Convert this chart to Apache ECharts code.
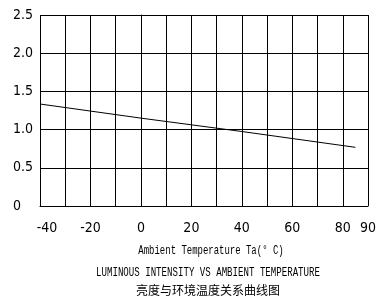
<!DOCTYPE html>
<html>
<head>
<meta charset="utf-8">
<script src="https://cdn.jsdelivr.net/npm/echarts@6/dist/echarts.min.js"></script>
<style>
  html, body { margin: 0; padding: 0; background: #fff; }
  #main { width: 379px; height: 304px; }
</style>
</head>
<body>
<div id="main"></div>
<script>
var temps = [-40, 0, 40, 85]
var intensity = [1.335, 1.15, 0.975, 0.768]
var xTickLabels = [-40, -20, 0, 20, 40, 60, 80, 90]
var axisName = 'Ambient Temperature Ta(° C)'
var titleEn = 'LUMINOUS INTENSITY VS AMBIENT TEMPERATURE'
var titleCn = '亮度与环境温度关系曲线图'

var tickFont = "'DejaVu Sans', sans-serif"
var monoFont = "'Liberation Mono', monospace"

var chartDom = document.getElementById('main')
var myChart = echarts.init(chartDom, null, { renderer: 'canvas' })

var points = temps.map(function (t, i) {
  return [t, intensity[i]]
})

var option = {
  animation: false,
  grid: {
    left: 40,
    right: 8,
    top: 15,
    bottom: 98,
  },
  xAxis: {
    type: 'value',
    min: -40,
    max: 90,
    interval: 10,
    axisLine: { lineStyle: { color: '#000', width: 1 } },
    axisTick: { show: false },
    splitLine: { show: true, lineStyle: { color: '#000', width: 1 } },
    axisLabel: {
      margin: 15,
      color: '#000',
      fontSize: 14,
      fontStyle: 'condensed',
      fontFamily: tickFont,
      showMinLabel: true,
      showMaxLabel: true,
      formatter: function (v) {
        if (v === -40) return '{first|' + v + '}'
        return xTickLabels.indexOf(v) >= 0 ? String(v) : ''
      },
      rich: {
        first: {
          fontSize: 14,
          fontStyle: 'condensed',
          fontFamily: tickFont,
          color: '#000',
          padding: [0, 0, 0, 14],
        },
      },
    },
  },
  yAxis: {
    type: 'value',
    min: 0,
    max: 2.5,
    interval: 0.5,
    axisLine: { show: true, lineStyle: { color: '#000', width: 1 } },
    axisTick: { show: false },
    splitLine: { show: true, lineStyle: { color: '#000', width: 1 } },
    axisLabel: {
      margin: 27,
      align: 'left',
      padding: [14, 0, 0, 0],
      color: '#000',
      fontSize: 14,
      fontStyle: 'condensed',
      fontFamily: tickFont,
      formatter: function (v) {
        return v === 0 ? '0' : v.toFixed(1)
      },
    },
  },
  graphic: [
    {
      type: 'text',
      x: 211,
      y: 251,
      scaleX: 0.69,
      style: {
        text: axisName,
        font: '13px ' + monoFont,
        fill: '#000',
        align: 'center',
        verticalAlign: 'middle',
      },
    },
    {
      type: 'text',
      x: 208,
      y: 273,
      scaleX: 0.7,
      style: {
        text: titleEn,
        font: '13px ' + monoFont,
        fill: '#000',
        align: 'center',
        verticalAlign: 'middle',
      },
    },
    {
      type: 'text',
      x: 208,
      y: 290,
      style: {
        text: titleCn,
        font: "12px 'Noto Sans CJK SC'",
        fill: '#000',
        align: 'center',
        verticalAlign: 'middle',
      },
    },
  ],
  series: [
    {
      type: 'line',
      data: points,
      showSymbol: false,
      smooth: false,
      lineStyle: { color: '#000', width: 1 },
    },
  ],
}

option && myChart.setOption(option)
</script>
</body>
</html>
